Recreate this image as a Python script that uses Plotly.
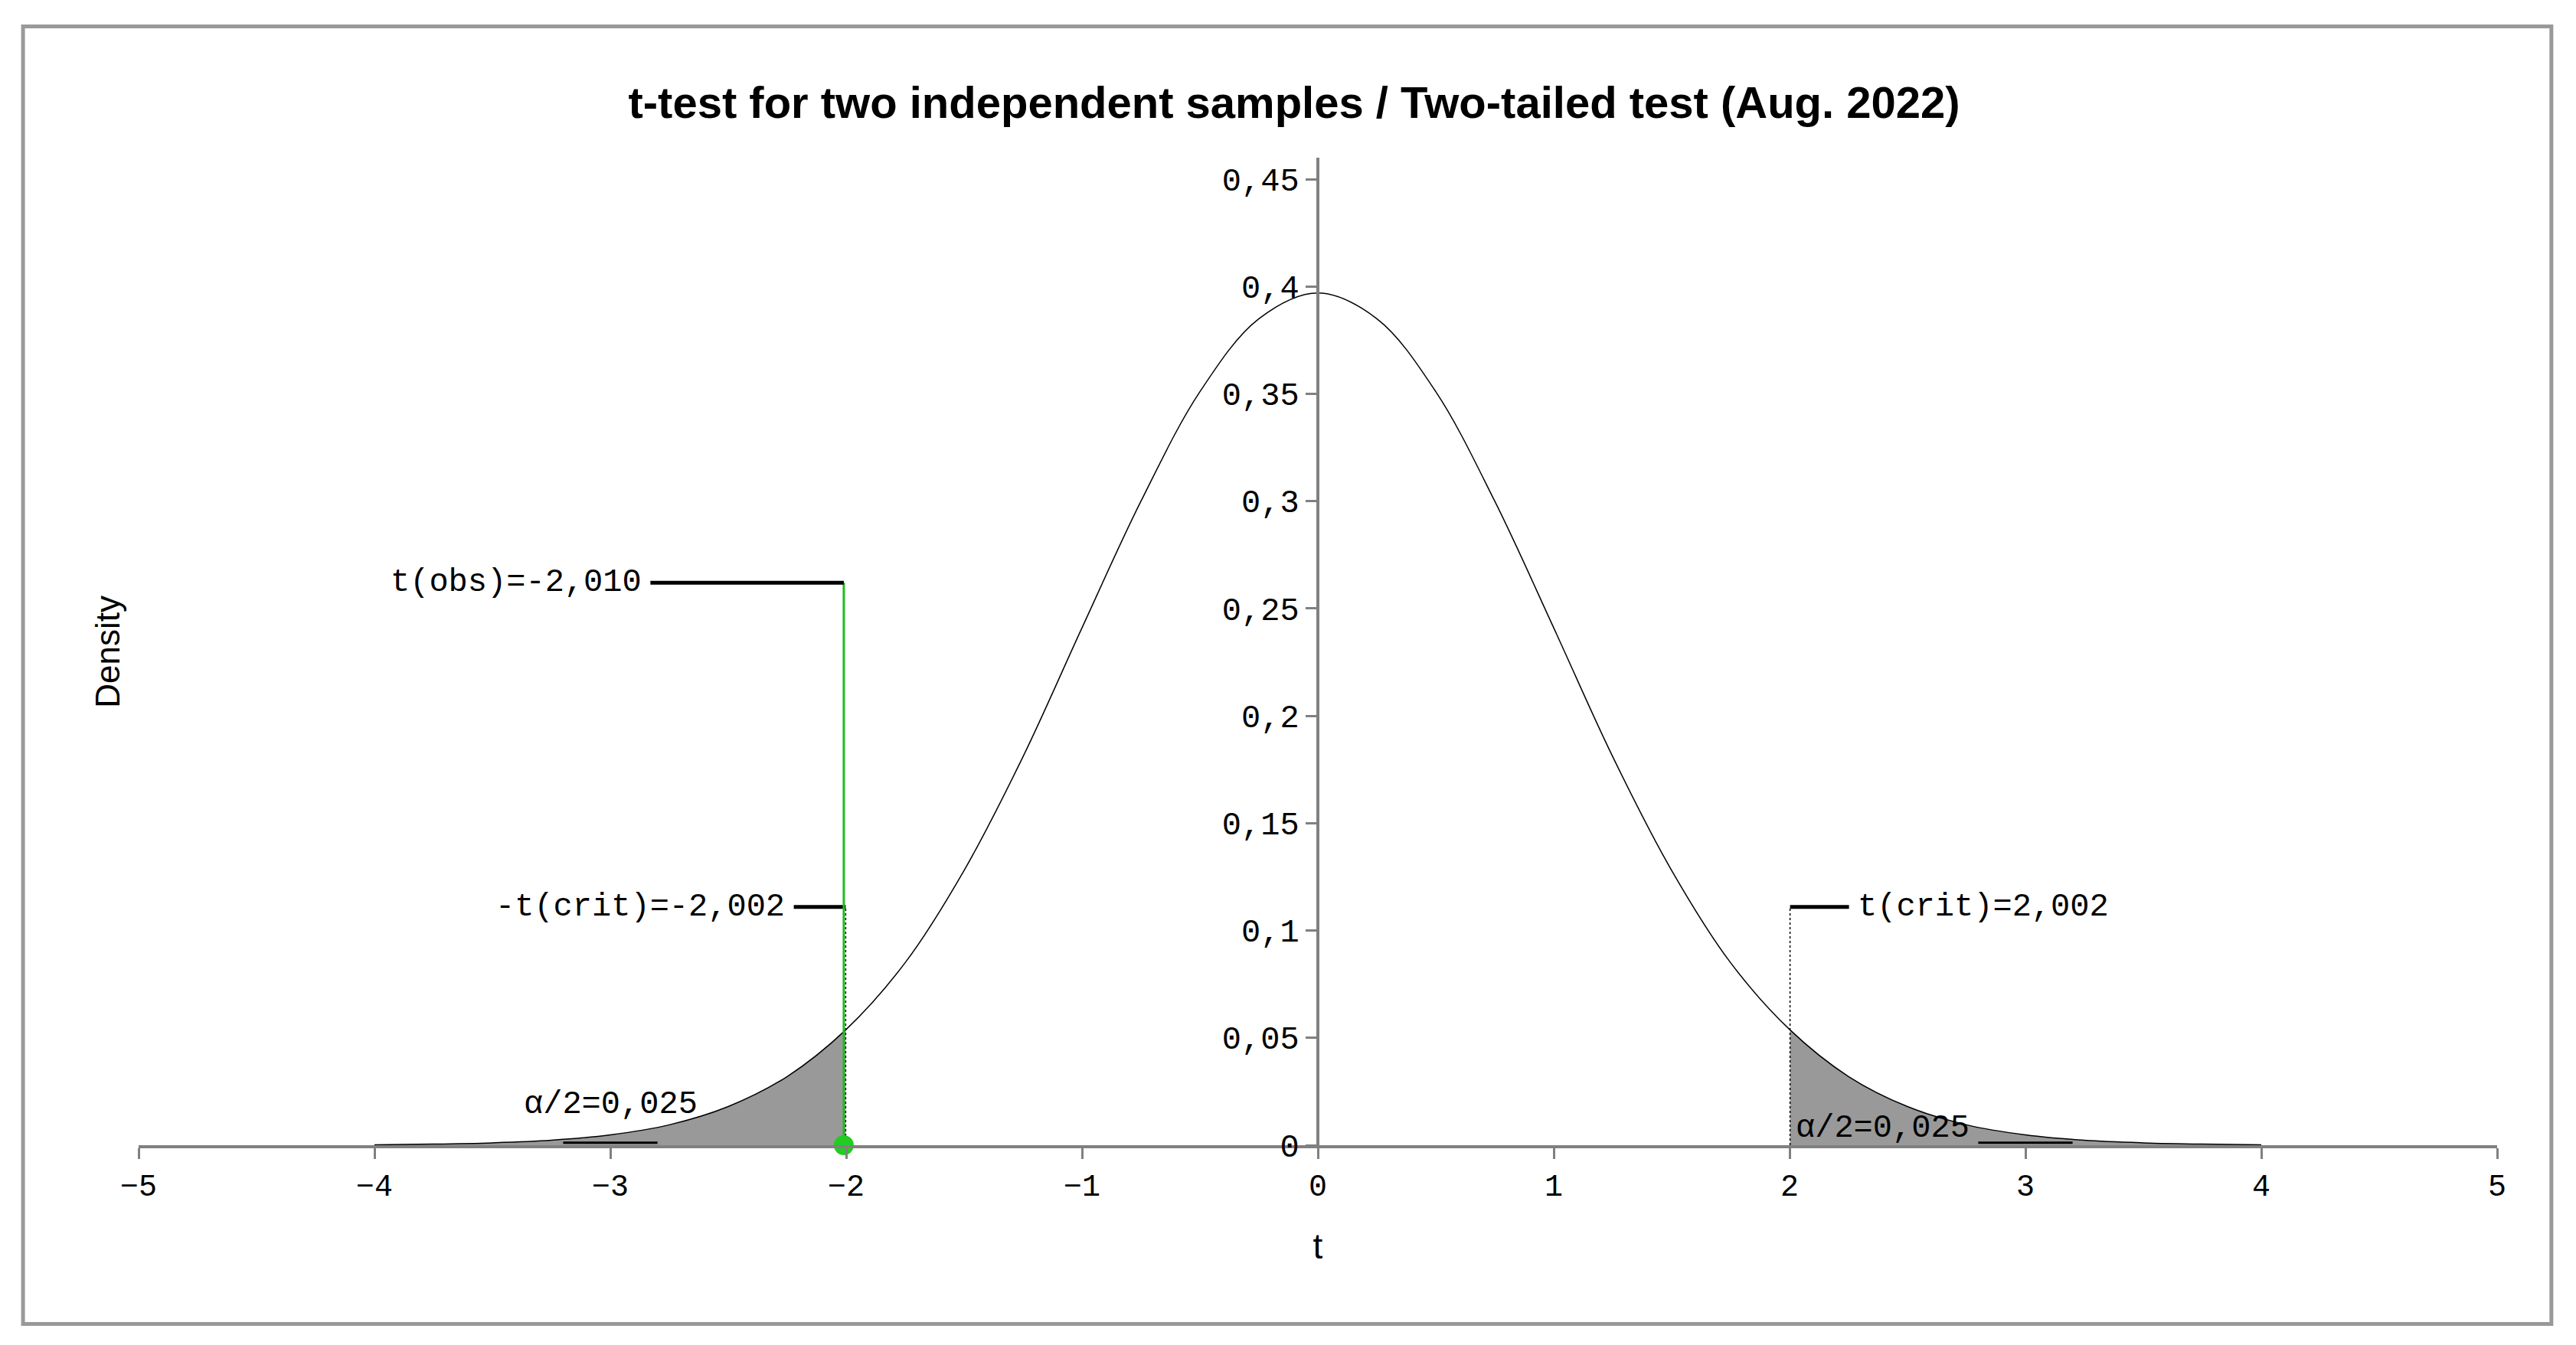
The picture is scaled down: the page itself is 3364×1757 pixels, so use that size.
import plotly.graph_objects as go

t_vals = [-4, -3.75, -3.5, -3.25, -3, -2.75, -2.5, -2.25, -2.002, -1.75, -1.5, -1.25, -1, -0.75, -0.5, -0.25, 0,
          0.25, 0.5, 0.75, 1, 1.25, 1.5, 1.75, 2.002, 2.25, 2.5, 2.75, 3, 3.25, 3.5, 3.75, 4]
dens = [0.0002, 0.0005, 0.0011, 0.0023, 0.0048, 0.0095, 0.018, 0.032, 0.0537, 0.085, 0.128, 0.181, 0.241, 0.300, 0.351, 0.385, 0.397,
        0.385, 0.351, 0.300, 0.241, 0.181, 0.128, 0.085, 0.0537, 0.032, 0.018, 0.0095, 0.0048, 0.0023, 0.0011, 0.0005, 0.0002]
t_crit = 2.002
t_obs = -2.010
crit_label_y = 0.111
obs_label_y = 0.262
x_ticks = [-5, -4, -3, -2, -1, 0, 1, 2, 3, 4, 5]
y_ticks = [0, 0.05, 0.1, 0.15, 0.2, 0.25, 0.3, 0.35, 0.4, 0.45]

mono = "Liberation Mono"
fig = go.Figure()
lt = [(x, y) for x, y in zip(t_vals, dens) if x <= -t_crit]
rt = [(x, y) for x, y in zip(t_vals, dens) if x >= t_crit]
for part in (lt, rt):
    fig.add_trace(go.Scatter(x=[p[0] for p in part], y=[p[1] for p in part], mode="lines",
                             line=dict(color="rgba(0,0,0,0)", shape="spline"), fill="tozeroy",
                             fillcolor="#999999", hoverinfo="skip"))
fig.add_trace(go.Scatter(x=t_vals, y=dens, mode="lines", line=dict(color="black", width=1.5, shape="spline")))
for xc in (-t_crit, t_crit):
    fig.add_trace(go.Scatter(x=[xc, xc], y=[0, crit_label_y], mode="lines", line=dict(color="black", width=1.5, dash="dot")))
fig.add_trace(go.Scatter(x=[-t_crit, -t_crit - 0.22], y=[crit_label_y] * 2, mode="lines", line=dict(color="black", width=5)))
fig.add_trace(go.Scatter(x=[t_crit, t_crit + 0.25], y=[crit_label_y] * 2, mode="lines", line=dict(color="black", width=5)))
fig.add_trace(go.Scatter(x=[t_obs, t_obs], y=[0, obs_label_y], mode="lines", line=dict(color="#22bb22", width=3)))
fig.add_trace(go.Scatter(x=[t_obs, t_obs - 0.82], y=[obs_label_y] * 2, mode="lines", line=dict(color="black", width=5)))
fig.add_trace(go.Scatter(x=[t_obs], y=[0], mode="markers", marker=dict(color="#22cc22", size=26), cliponaxis=False))
fig.add_trace(go.Scatter(x=[-3.2, -2.8], y=[0.0012, 0.0012], mode="lines", line=dict(color="black", width=3)))
fig.add_trace(go.Scatter(x=[2.8, 3.2], y=[0.0012, 0.0012], mode="lines", line=dict(color="black", width=3)))

af = dict(family=mono, size=42, color="black")
fig.add_annotation(x=t_obs - 0.85, y=obs_label_y, text="t(obs)=-2,010", showarrow=False, xanchor="right", font=af)
fig.add_annotation(x=-t_crit - 0.25, y=crit_label_y, text="-t(crit)=-2,002", showarrow=False, xanchor="right", font=af)
fig.add_annotation(x=t_crit + 0.28, y=crit_label_y, text="t(crit)=2,002", showarrow=False, xanchor="left", font=af)
fig.add_annotation(x=-3.0, y=0.019, text="α/2=0,025", showarrow=False, xanchor="center", font=af)
fig.add_annotation(x=2.02, y=0.008, text="α/2=0,025", showarrow=False, xanchor="left", font=af)
fig.add_annotation(x=-0.022, xref="paper", y=0.5, yref="paper", text="Density", textangle=-90, showarrow=False,
                   font=dict(family="Liberation Sans", size=44, color="black"))

fig.update_layout(
    width=3364, height=1757, plot_bgcolor="white", paper_bgcolor="white", showlegend=False,
    separators=", ",
    margin=dict(l=173, r=111, t=198, b=269),
    title=dict(text="<b>t-test for two independent samples / Two-tailed test (Aug. 2022)</b>", x=0.5, y=0.94,
               xanchor="center", font=dict(family="Liberation Sans", size=58, color="black")),
    xaxis=dict(range=[-5, 5], domain=[0, 1], tickvals=x_ticks, ticktext=[str(v).replace("-", "−") for v in x_ticks],
               showgrid=False, zeroline=False, showline=True, linecolor="#808080", linewidth=4,
               ticks="outside", ticklen=14, tickwidth=3, tickcolor="#808080",
               tickfont=dict(family=mono, size=40, color="black"),
               title=dict(text="t", font=dict(family="Liberation Sans", size=46, color="black"), standoff=40)),
    yaxis=dict(range=[0, 0.46], tickvals=y_ticks, showgrid=False, zeroline=False, showline=True,
               linecolor="#808080", linewidth=4, anchor="free", position=0.5,
               ticks="outside", ticklen=14, tickwidth=3, tickcolor="#808080",
               tickfont=dict(family=mono, size=42, color="black")),
)
fig.add_shape(type="rect", xref="paper", yref="paper", x0=-0.049, x1=1.023, y0=-0.181, y1=1.133,
              line=dict(color="#999999", width=5))
fig.write_html("out.html")
